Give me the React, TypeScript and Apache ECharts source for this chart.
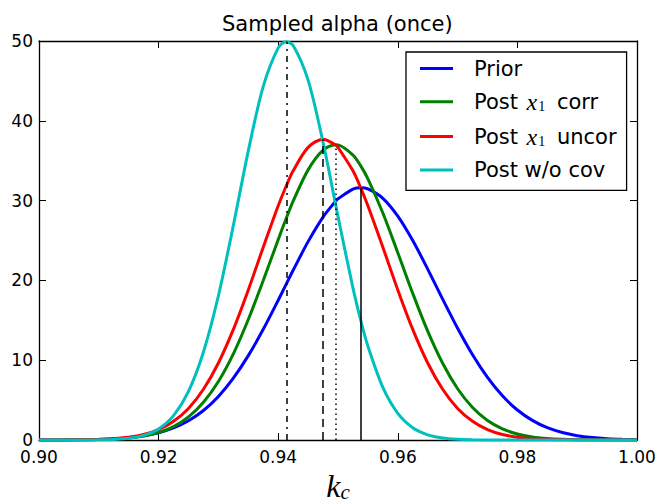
import React, { useEffect, useRef } from "react";
import * as echarts from "echarts";

const xs = [
  0.9, 0.9025, 0.905, 0.9075, 0.91, 0.9125, 0.915, 0.9175, 0.92, 0.9225,
  0.925, 0.9275, 0.93, 0.9325, 0.935, 0.9375, 0.94, 0.9413, 0.9425, 0.945, 0.9475,
  0.9496, 0.95, 0.9525, 0.9538, 0.955, 0.9575, 0.96, 0.9625, 0.965, 0.9675, 0.97, 0.9725,
  0.975, 0.9775, 0.98, 0.9825, 0.985, 0.9875, 0.99, 0.9925, 0.995, 0.9975, 1.0,
];

const prior = [
  0.004, 0.009, 0.02, 0.041, 0.083, 0.16, 0.297, 0.532, 0.916, 1.516,
  2.416, 3.7, 5.46, 7.75, 10.57, 13.87, 17.51, 19.47, 21.27, 24.86, 27.94,
  29.92, 30.22, 31.44, 31.6, 31.46, 30.29, 28.05, 24.99, 21.42, 17.66, 14.01, 10.69,
  7.85, 5.54, 3.76, 2.46, 1.54, 0.934, 0.544, 0.304, 0.164, 0.085, 0.042,
];

const postCorr = [
  0.001, 0.003, 0.009, 0.021, 0.05, 0.113, 0.24, 0.484, 0.926, 1.68,
  2.9, 4.74, 7.34, 10.8, 15.1, 19.98, 25.11, 27.69, 29.93, 33.85, 36.32,
  37.0, 36.98, 35.71, 34.35, 32.73, 28.45, 23.47, 18.37, 13.64, 9.61, 6.42, 4.07,
  2.45, 1.4, 0.757, 0.389, 0.19, 0.088, 0.039, 0.016, 0.006, 0.002, 0.001,
];

const postUncor = [
  0.002, 0.005, 0.012, 0.031, 0.072, 0.162, 0.343, 0.687, 1.3, 2.34,
  3.96, 6.36, 9.65, 13.86, 18.81, 24.16, 29.35, 31.77, 33.73, 36.67, 37.7,
  36.97, 36.67, 33.73, 31.6, 29.35, 24.16, 18.81, 13.86, 9.65, 6.36, 3.96, 2.34,
  1.3, 0.687, 0.343, 0.162, 0.072, 0.031, 0.012, 0.005, 0.002, 0.001, 0.0,
];

const postNoCov = [
  0.0, 0.0, 0.002, 0.006, 0.023, 0.073, 0.215, 0.575, 1.39, 3.06,
  6.1, 11.03, 18.08, 26.88, 36.23, 44.31, 49.14, 49.9, 49.43, 45.1, 37.31,
  29.51, 28.0, 19.06, 15.01, 11.76, 6.59, 3.34, 1.54, 0.644, 0.244, 0.084, 0.026,
  0.007, 0.002, 0.0, 0.0, 0.0, 0.0, 0.0, 0.0, 0.0, 0.0, 0.0,
];

const seriesNames = ["Prior", "Post x1 corr", "Post x1 uncor", "Post w/o cov"];
const seriesColors = ["#0000ff", "#008000", "#ff0000", "#00bfbf"];
const seriesValues = [prior, postCorr, postUncor, postNoCov];

// vertical marker lines: mean position and height (peak)
const markerX = [0.9538, 0.9496, 0.9475, 0.9414];
const markerTop = [31.6, 37.0, 37.7, 49.9];
const markerDash: any[] = ["solid", [1.5, 3.5], [8, 5], [6, 5, 2, 5]];

const xTicks = { min: 0.9, max: 1.0, interval: 0.02 };
const yTicks = { min: 0, max: 50, interval: 10 };

const legendLabels: Record<string, string> = {
  Prior: "{t|Prior}",
  "Post x1 corr": "{t|Post }{m|x}{s|1}{t| corr}",
  "Post x1 uncor": "{t|Post }{m|x}{s|1}{t| uncor}",
  "Post w/o cov": "{t|Post w/o cov}",
};

export default function App() {
  const ref = useRef<HTMLDivElement>(null);
  useEffect(() => {
    if (!ref.current) return;
    const chart = echarts.init(ref.current, undefined, { renderer: "svg" });
    const font = "DejaVu Sans";
    const axisCommon = {
      type: "value",
      axisLine: { show: true, onZero: false, lineStyle: { color: "#000", width: 1.3 } },
      axisTick: { show: true, inside: true, length: 7, lineStyle: { color: "#000", width: 1 } },
      splitLine: { show: false },
    };
    const option: any = {
      animation: false,
      backgroundColor: "#fff",
      title: {
        text: "Sampled alpha (once)",
        left: 222,
        top: 13,
        padding: 0,
        textStyle: { fontSize: 21, fontWeight: "normal", fontFamily: font, color: "#000" },
      },
      grid: { left: 39, right: 22, top: 41, bottom: 64, outerBoundsMode: "none" },
      xAxis: [
        {
          ...axisCommon,
          ...xTicks,
          position: "bottom",
          axisLabel: {
            formatter: (v: number) => v.toFixed(2),
            fontSize: 17,
            lineHeight: 17,
            color: "#000",
            fontFamily: font,
            margin: 8,
            showMinLabel: true,
            showMaxLabel: true,
          },
          name: "{k|k}{c|c}",
          nameLocation: "middle",
          nameGap: 26,
          nameTextStyle: {
            rich: {
              k: { fontSize: 32, fontFamily: "Liberation Serif", fontStyle: "italic", color: "#000", lineHeight: 34 },
              c: { fontSize: 21, fontFamily: "Liberation Serif", fontStyle: "italic", color: "#000", lineHeight: 14, verticalAlign: "bottom" },
            },
          },
        },
        { ...axisCommon, ...xTicks, position: "top", axisLabel: { show: false } },
      ],
      yAxis: [
        {
          ...axisCommon,
          ...yTicks,
          position: "left",
          axisLabel: { fontSize: 17, lineHeight: 13, color: "#000", fontFamily: font, margin: 6 },
        },
        { ...axisCommon, ...yTicks, position: "right", axisLabel: { show: false } },
      ],
      legend: {
        orient: "vertical",
        left: 406,
        top: 52,
        padding: [6, 10, 10, 14],
        itemGap: 10.8,
        itemWidth: 33,
        itemHeight: 3,
        icon: "rect",
        backgroundColor: "#fff",
        borderColor: "#000",
        borderWidth: 1.3,
        borderRadius: 0,
        data: seriesNames,
        formatter: (name: string) => legendLabels[name],
        textStyle: {
          padding: [0, 0, 0, 16],
          rich: {
            t: { fontSize: 21, fontFamily: font, color: "#000", lineHeight: 24 },
            m: { fontSize: 24, fontFamily: "Liberation Serif", fontStyle: "italic", color: "#000", lineHeight: 24, padding: [0, 0, 0, 2] },
            s: { fontSize: 14, fontFamily: "Liberation Serif", color: "#000", lineHeight: 24, verticalAlign: "bottom", padding: [0, 5, 0, 1] },
          },
        },
      },
      series: seriesNames.map((name, i) => ({
        name,
        type: "line",
        xAxisIndex: 0,
        yAxisIndex: 0,
        data: xs.map((x, j) => [x, seriesValues[i][j]]),
        showSymbol: false,
        symbol: "none",
        smooth: 0.3,
        lineStyle: { color: seriesColors[i], width: 3 },
        itemStyle: { color: seriesColors[i] },
        emphasis: { disabled: true },
        markLine: {
          silent: true,
          symbol: ["none", "none"],
          label: { show: false },
          lineStyle: { color: "#000", width: 1.5, type: markerDash[i] },
          emphasis: { disabled: true },
          data: [[{ coord: [markerX[i], 0] }, { coord: [markerX[i], markerTop[i]] }]],
        },
      })),
    };
    chart.setOption(option);
    return () => chart.dispose();
  }, []);
  return (
    <div
      ref={ref}
      style={{ position: "fixed", left: 0, top: 0, width: 659, height: 504 }}
    />
  );
}
